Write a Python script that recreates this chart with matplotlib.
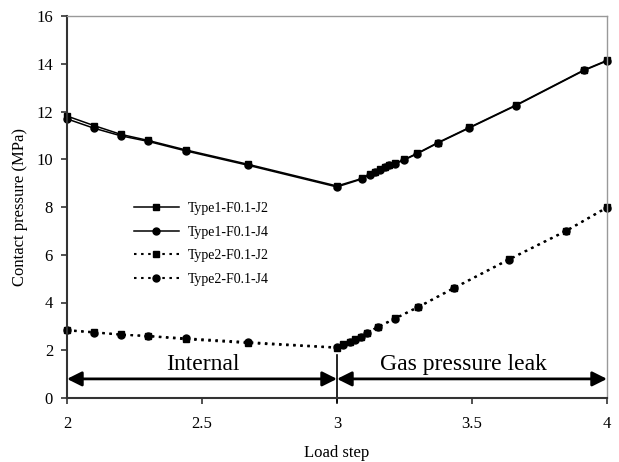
import matplotlib.pyplot as plt

plt.rcParams['font.family'] = ['Liberation Serif', 'DejaVu Serif']

# Type1 (upper curves)
x_t1 = [2.0, 2.1, 2.2, 2.3, 2.44, 2.67, 3.0, 3.094, 3.122, 3.141, 3.159, 3.178,
        3.194, 3.215, 3.249, 3.297, 3.374, 3.49, 3.663, 3.915, 4.0]
y_t1_j2 = [11.81, 11.41, 11.04, 10.79, 10.39, 9.79, 8.88, 9.2, 9.38, 9.48, 9.58,
           9.69, 9.76, 9.83, 9.99, 10.25, 10.7, 11.33, 12.27, 13.74, 14.14]
y_t1_j4 = [11.69, 11.30, 10.98, 10.75, 10.35, 9.75, 8.84, 9.18, 9.36, 9.46, 9.56,
           9.67, 9.74, 9.81, 9.97, 10.23, 10.68, 11.31, 12.25, 13.72, 14.12]

# Type2 (lower curves)
x_t2 = [2.0, 2.1, 2.2, 2.3, 2.44, 2.67, 3.0, 3.023, 3.048, 3.067, 3.088, 3.112,
        3.153, 3.215, 3.301, 3.434, 3.638, 3.847, 4.0]
y_t2_j2 = [2.85, 2.76, 2.66, 2.59, 2.46, 2.30, 2.10, 2.25, 2.36, 2.46, 2.57, 2.74,
           2.99, 3.34, 3.82, 4.62, 5.82, 7.0, 7.99]
y_t2_j4 = [2.83, 2.74, 2.65, 2.60, 2.50, 2.34, 2.12, 2.24, 2.35, 2.45, 2.56, 2.72,
           2.97, 3.32, 3.80, 4.60, 5.80, 6.98, 7.97]

fig = plt.figure(figsize=(6.19, 4.62), dpi=100)
ax = fig.add_axes([67/619, 64/462, 540/619, 382/462])

dot = (0, (1.2, 2.2))
ax.plot(x_t1, y_t1_j2, '-', color='black', lw=1.1, marker='s', ms=5, clip_on=False, label='Type1-F0.1-J2')
ax.plot(x_t1, y_t1_j4, '-', color='black', lw=1.1, marker='o', ms=5, clip_on=False, label='Type1-F0.1-J4')
ax.plot(x_t2, y_t2_j2, linestyle=dot, color='black', lw=1.5, marker='s', ms=5, clip_on=False, label='Type2-F0.1-J2')
ax.plot(x_t2, y_t2_j4, linestyle=dot, color='black', lw=1.5, marker='o', ms=5, clip_on=False, label='Type2-F0.1-J4')

# Phase arrows
arrow = dict(arrowstyle='<|-|>', color='black', lw=2, mutation_scale=22, shrinkA=0, shrinkB=0)
ax.annotate('', xy=(2.0, 0.8), xytext=(3.0, 0.8), arrowprops=arrow)
ax.annotate('', xy=(3.0, 0.8), xytext=(4.0, 0.8), arrowprops=arrow)
ax.plot([3.0, 3.0], [-0.17, 1.8], color='black', lw=1.2, clip_on=False)
ax.text(2.505, 1.4, 'Internal', ha='center', va='center', fontsize=17)
ax.text(3.47, 1.4, 'Gas pressure leak', ha='center', va='center', fontsize=17)

ax.set_xlim(2, 4)
ax.set_ylim(0, 16)
ax.set_xticks([2, 2.5, 3, 3.5, 4])
ax.set_xticklabels(['2', '2.5', '3', '3.5', '4'])
ax.set_yticks(range(0, 17, 2))
ax.tick_params(labelsize=12, direction='out', length=4, width=1.2, color='#333333')
ax.tick_params(axis='x', pad=9)
ax.tick_params(axis='y', pad=6)
for s in ['top', 'right']:
    ax.spines[s].set_color('#999999')
    ax.spines[s].set_linewidth(1)
for s in ['left', 'bottom']:
    ax.spines[s].set_color('#333333')
    ax.spines[s].set_linewidth(1.5)

ax.set_xlabel('Load step', fontsize=12, labelpad=9)
ax.set_ylabel('Contact pressure (MPa)', fontsize=12, labelpad=6)

ax.legend(loc='upper left', bbox_to_anchor=(0.1, 0.545), frameon=False, fontsize=10,
          handlelength=3.3, handletextpad=0.6, labelspacing=0.75)

fig.savefig('out.png', dpi=100)
